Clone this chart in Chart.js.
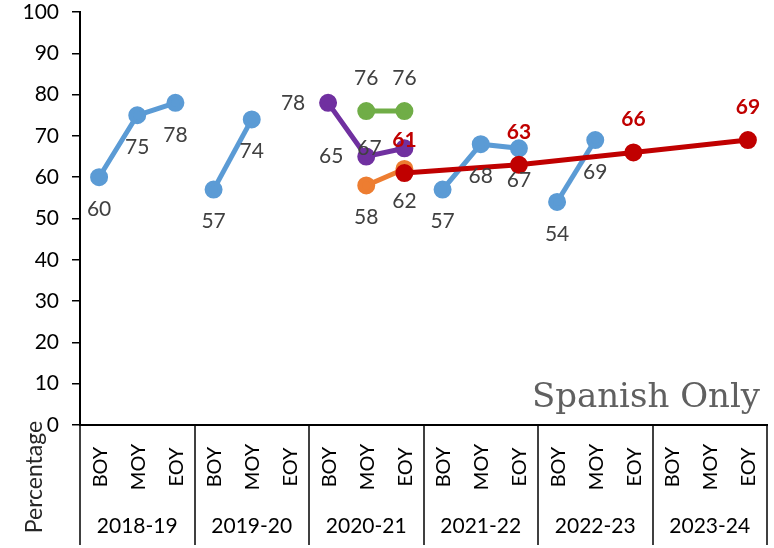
<!DOCTYPE html>
<html>
<head>
<meta charset="utf-8">
<script src="https://cdn.jsdelivr.net/npm/chart.js@4"></script>
<style>
    html, body { margin: 0; padding: 0; background: #fff; }
    #wrap { width: 774px; height: 548px; }
</style>
</head>
<body>
<div id="wrap"><canvas id="chart" width="774" height="548"></canvas></div>
<script>
const years = ['2018-19', '2019-20', '2020-21', '2021-22', '2022-23', '2023-24'];
const periods = ['BOY', 'MOY', 'EOY'];
const yTicks = [0, 10, 20, 30, 40, 50, 60, 70, 80, 90, 100];

// one slot per year x period, null where there is no point
const blueVals   = [60, 75, 78,  57, 74, null,  null, null, null,  57, 68, 67,  54, 69, null,  null, null, null];
const purpleVals = [null, null, null,  null, null, null,  78, 65, 67,  null, null, null,  null, null, null,  null, null, null];
const greenVals  = [null, null, null,  null, null, null,  null, 76, 76,  null, null, null,  null, null, null,  null, null, null];
const orangeVals = [null, null, null,  null, null, null,  null, 58, 62,  null, null, null,  null, null, null,  null, null, null];
const goalVals   = [null, null, null,  null, null, null,  null, null, 61,  null, null, 63,  null, null, 66,  null, null, 69];

const labels = years.flatMap(() => periods);
const FONT = 'Lato, "Open Sans", sans-serif';
const LABEL_GREY = '#404040';

const BLUE = '#5b9bd5', PURPLE = '#7030a0', GREEN = '#70ad47', ORANGE = '#ed7d31', RED = '#c00000';

function lineSet(data, color, extra) {
    return Object.assign({
        data: data,
        borderColor: color,
        backgroundColor: color,
        pointBackgroundColor: color,
        pointBorderColor: color,
        borderWidth: 5,
        pointRadius: 6.5,
        pointHoverRadius: 6.5,
        tension: 0,
        spanGaps: false
    }, extra || {});
}

// value labels, placed like Excel's above / below / left
const valueLabels = {
    id: 'valueLabels',
    afterDatasetsDraw(chart) {
        const ctx = chart.ctx;
        ctx.save();
        ctx.textAlign = 'center';
        ctx.textBaseline = 'middle';
        chart.data.datasets.forEach((ds, i) => {
            const meta = chart.getDatasetMeta(i);
            ctx.font = (ds.labelBold ? 'bold ' : '') + '21px ' + FONT;
            ctx.fillStyle = ds.labelColor || LABEL_GREY;
            meta.data.forEach((pt, j) => {
                const v = ds.data[j];
                if (v === null || v === undefined) return;
                let x = pt.x, y = pt.y;
                if (ds.labelPos === 'below') y += 32;
                else if (ds.labelPos === 'above') y -= 33;
                else if (ds.labelPos === 'left') x -= 35;
                ctx.fillText(String(v), x, y);
            });
        });
        ctx.restore();
    }
};

// two-row category axis, dividers, axis title and the watermark text
const decorations = {
    id: 'decorations',
    afterDraw(chart) {
        const ctx = chart.ctx;
        const xs = chart.scales.x;
        const area = chart.chartArea;
        const step = xs.getPixelForValue(1) - xs.getPixelForValue(0);
        ctx.save();
        ctx.strokeStyle = '#000';
        ctx.lineWidth = 1.5;
        for (let g = 0; g <= years.length; g++) {
            const x = Math.round(xs.getPixelForValue(g * 3) - step / 2);
            ctx.beginPath();
            ctx.moveTo(x, area.bottom);
            ctx.lineTo(x, 545);
            ctx.stroke();
        }
        ctx.fillStyle = '#000';
        ctx.textAlign = 'center';
        ctx.textBaseline = 'middle';

        ctx.font = '20px ' + FONT;
        labels.forEach((lab, i) => {
            ctx.save();
            ctx.translate(xs.getPixelForValue(i), 467);
            ctx.rotate(-Math.PI / 2);
            ctx.fillText(lab, 0, 1);
            ctx.restore();
        });

        ctx.font = '21px ' + FONT;
        years.forEach((yr, g) => {
            ctx.fillText(yr, xs.getPixelForValue(g * 3 + 1), 526);
        });

        ctx.save();
        ctx.translate(35, 477);
        ctx.rotate(-Math.PI / 2);
        ctx.font = '23px ' + FONT;
        ctx.fillStyle = '#262626';
        ctx.fillText('Percentage', 0, 0);
        ctx.restore();

        ctx.font = '34px "DejaVu Serif", serif';
        ctx.fillStyle = '#606060';
        ctx.textAlign = 'right';
        ctx.textBaseline = 'alphabetic';
        ctx.fillText('Spanish Only', area.right - 7, area.bottom - 18);
        ctx.restore();
    }
};

new Chart(document.getElementById('chart'), {
    type: 'line',
    data: {
        labels: labels,
        datasets: [
            lineSet(goalVals, RED, { spanGaps: true, labelPos: 'above', labelColor: RED, labelBold: true }),
            lineSet(orangeVals, ORANGE, { labelPos: 'below' }),
            lineSet(greenVals, GREEN, { labelPos: 'above' }),
            lineSet(purpleVals, PURPLE, { labelPos: 'left' }),
            lineSet(blueVals, BLUE, {
                labelPos: 'below',
                segment: { borderColor: c => (c.p0DataIndex % 3 === 2 ? 'transparent' : BLUE) }
            })
        ]
    },
    options: {
        responsive: false,
        animation: false,
        layout: { autoPadding: false, padding: { top: 12, right: 7, left: 0, bottom: 0 } },
        plugins: {
            legend: { display: false },
            tooltip: { enabled: false }
        },
        scales: {
            x: {
                offset: true,
                grid: { display: false },
                border: { display: true, color: '#000', width: 2 },
                ticks: { display: false },
                afterFit: s => { s.height = 123; }
            },
            y: {
                min: 0,
                max: 100,
                afterBuildTicks: s => { s.ticks = yTicks.map(v => ({ value: v })); },
                grid: { drawOnChartArea: false, drawTicks: true, tickLength: 8, color: '#000', lineWidth: 1.5 },
                border: { display: true, color: '#000', width: 2 },
                ticks: {
                    color: '#000',
                    font: { family: FONT, size: 21 },
                    padding: 13
                },
                afterFit: s => { s.width = 80; s.paddingTop = 0; s.paddingBottom = 0; }
            }
        }
    },
    plugins: [valueLabels, decorations]
});
</script>
</body>
</html>
